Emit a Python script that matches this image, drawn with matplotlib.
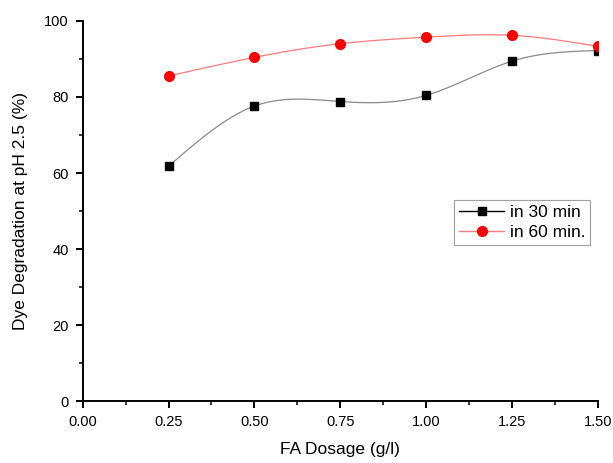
import numpy as np
import matplotlib.pyplot as plt
from matplotlib.ticker import MultipleLocator

# FA dosage (g/l) and degradation (%) at pH 2.5
dosage = [0.25, 0.50, 0.75, 1.00, 1.25, 1.50]
deg_30min = [61.8, 77.6, 78.8, 80.4, 89.4, 92.2]
deg_60min = [85.5, 90.4, 94.0, 95.7, 96.2, 93.3]


def spline_curve(x, y, n=200):
    """Natural cubic spline through the points, for a smooth connecting line"""
    x = np.asarray(x, float)
    y = np.asarray(y, float)
    N = len(x)
    h = np.diff(x)
    A = np.zeros((N, N))
    b = np.zeros(N)
    A[0, 0] = A[-1, -1] = 1
    for i in range(1, N - 1):
        A[i, i - 1] = h[i - 1]
        A[i, i] = 2 * (h[i - 1] + h[i])
        A[i, i + 1] = h[i]
        b[i] = 6 * ((y[i + 1] - y[i]) / h[i] - (y[i] - y[i - 1]) / h[i - 1])
    M = np.linalg.solve(A, b)
    xs = np.linspace(x[0], x[-1], n)
    k = np.clip(np.searchsorted(x, xs) - 1, 0, N - 2)
    t1 = x[k + 1] - xs
    t0 = xs - x[k]
    hk = h[k]
    ys = (M[k] * t1**3 / (6 * hk) + M[k + 1] * t0**3 / (6 * hk)
          + (y[k] / hk - M[k] * hk / 6) * t1 + (y[k + 1] / hk - M[k + 1] * hk / 6) * t0)
    return xs, ys


plt.rcParams['font.family'] = ['Liberation Sans', 'DejaVu Sans']

fig = plt.figure(figsize=(6.13, 4.63), dpi=100)
ax = fig.add_axes([0.135, 0.133, 0.84, 0.822])

xs, ys = spline_curve(dosage, deg_30min)
ax.plot(xs, ys, color='#8a8a8a', lw=0.9, zorder=2)
ax.plot(dosage, deg_30min, ls='none', marker='s', ms=6, color='black', zorder=3)

xs, ys = spline_curve(dosage, deg_60min)
ax.plot(xs, ys, color='#ff7a7a', lw=0.9, zorder=2)
ax.plot(dosage, deg_60min, ls='none', marker='o', ms=7, color='red', zorder=3)

# legend handles: line with marker
h1, = ax.plot([], [], color='black', lw=1.0, marker='s', ms=6)
h2, = ax.plot([], [], color='#ff7a7a', lw=1.0, marker='o', ms=7, mfc='red', mec='red')
leg = ax.legend([h1, h2], ['in 30 min', 'in 60 min.'], loc='upper left',
                bbox_to_anchor=(0.721, 0.529), fontsize=12.5, frameon=True,
                fancybox=False, borderpad=0.3, labelspacing=0.25,
                handlelength=2.6, handletextpad=0.3, borderaxespad=0)
leg.get_frame().set_edgecolor('#888888')
leg.get_frame().set_linewidth(0.8)

ax.set_xlim(0, 1.5)
ax.set_ylim(0, 100)
ax.xaxis.set_major_locator(MultipleLocator(0.25))
ax.xaxis.set_minor_locator(MultipleLocator(0.125))
ax.yaxis.set_major_locator(MultipleLocator(20))
ax.yaxis.set_minor_locator(MultipleLocator(10))
ax.xaxis.set_major_formatter(plt.FormatStrFormatter('%.2f'))

ax.spines['top'].set_visible(False)
ax.spines['right'].set_visible(False)
for s in ['left', 'bottom']:
    ax.spines[s].set_linewidth(1.4)
ax.tick_params(which='major', direction='out', length=5, width=1.4, labelsize=10.5, pad=5)
ax.tick_params(which='minor', direction='out', length=3, width=1.1)

ax.set_xlabel('FA Dosage (g/l)', fontsize=12.5, labelpad=9)
ax.set_ylabel('Dye Degradation at pH 2.5 (%)', fontsize=12.5, labelpad=12)

fig.savefig('out.png', dpi=100)
